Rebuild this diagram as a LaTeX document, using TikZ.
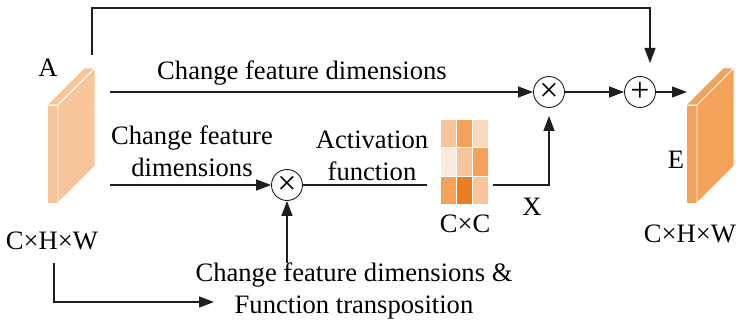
\documentclass[tikz,border=0pt]{standalone}
\usepackage{fontspec}
\setmainfont{Liberation Serif}
\definecolor{peachA}{RGB}{248, 197, 154}
\definecolor{orangeE}{RGB}{244, 161, 90}
\definecolor{paleC}{RGB}{251, 217, 190}
\definecolor{whiteC}{RGB}{252, 234, 222}
\definecolor{darkC}{RGB}{238, 125, 34}
\definecolor{lineK}{RGB}{30, 30, 30}
\usepackage{tikz}
\usetikzlibrary{shapes, arrows.meta, positioning, calc}

\begin{document}
\begin{tikzpicture}[x=1pt, y=-1pt, font=\fontsize{26.6}{32}\selectfont,
  arr/.style={draw=lineK, line width=1.3pt, -{Triangle[length=15pt, width=11pt]}},
  plain/.style={draw=lineK, line width=1.3pt},
  op/.style={draw=lineK, circle, line width=0.9pt, minimum size=31pt, inner sep=0pt, font=\fontsize{34}{34}\selectfont},
  lbl/.style={inner sep=0pt, align=center}]
  \useasboundingbox (0,0) rectangle (736,326);

  % Feature blocks
  \fill[peachA, draw=white, line width=0.8pt] (47,105) rectangle (58,203);
  \fill[peachA, draw=white, line width=0.8pt] (47,105) -- (58,105) -- (95,68) -- (84,68) -- cycle;
  \fill[peachA, draw=white, line width=0.8pt] (58,105) -- (95,68) -- (95,166) -- (58,203) -- cycle;
  \fill[orangeE, draw=white, line width=0.8pt] (686,105) rectangle (697,203);
  \fill[orangeE, draw=white, line width=0.8pt] (686,105) -- (697,105) -- (734,68) -- (723,68) -- cycle;
  \fill[orangeE, draw=white, line width=0.8pt] (697,105) -- (734,68) -- (734,166) -- (697,203) -- cycle;

  % Attention matrix
  \node[minimum width=48pt, minimum height=84pt, inner sep=0pt] (mat) at (464,162) {};
  \foreach \col/\row/\c in {0/0/peachA, 1/0/orangeE, 2/0/paleC,
                            0/1/whiteC, 1/1/peachA, 2/1/orangeE,
                            0/2/orangeE, 1/2/darkC, 2/2/peachA}
    \fill[\c, draw=white, line width=1pt] (440+16*\col, 120+28*\row) rectangle ++(16,28);

  % Labels
  \node[lbl] (labA) at (48,68) {A};
  \node[lbl] (dimA) at (52,241) {C×H×W};
  \node[lbl] (labE) at (676,160) {E};
  \node[lbl] (dimE) at (690,234) {C×H×W};
  \node[lbl] (dimC) at (465,224) {C×C};
  \node[lbl] (labX) at (532,207) {X};
  \node[lbl] (txtTop) at (302,73) {Change feature dimensions};
  \node[lbl] (txtMid) at (192,151) {Change feature\\dimensions};
  \node[lbl] (txtAct) at (372,156) {Activation\\function};
  \node[lbl] (txtBot) at (354,291) {Change feature dimensions \&\\Function transposition};

  % Operators
  \node[op] (mulTop) at (549,92) {×};
  \node[op] (plus) at (640,92) {+};
  \node[op] (mulMid) at (287,185) {×};

  \coordinate (srcTop) at (110,92);
  \coordinate (srcMid) at (110,185);
  \coordinate (skipA) at (92,55);
  \coordinate (skipEnd) at (650,63);
  \coordinate (inE) at (687,92);
  \coordinate (botA) at (54,263);
  \coordinate (botEnd) at (214,302);

  % Connectors
  \draw[arr] (srcTop) -- (mulTop.west);
  \draw[arr] (mulTop.east) -- (plus.west);
  \draw[arr] (plus.east) -- (inE);
  \draw[arr] (skipA) -- ++(0,-47) -| (skipEnd);
  \draw[arr] (srcMid) -- (mulMid.west);
  \draw[plain, shorten >=13pt] (mulMid.east) -- (mat.west |- mulMid);
  \draw[arr, shorten >=8pt] ($(mat.east |- mulMid)+(5,0)$) -| (mulTop.south);
  \draw[arr] (botA) |- (botEnd);
  \draw[arr] (txtBot.north -| mulMid) -- (mulMid.south);
\end{tikzpicture}
\end{document}
